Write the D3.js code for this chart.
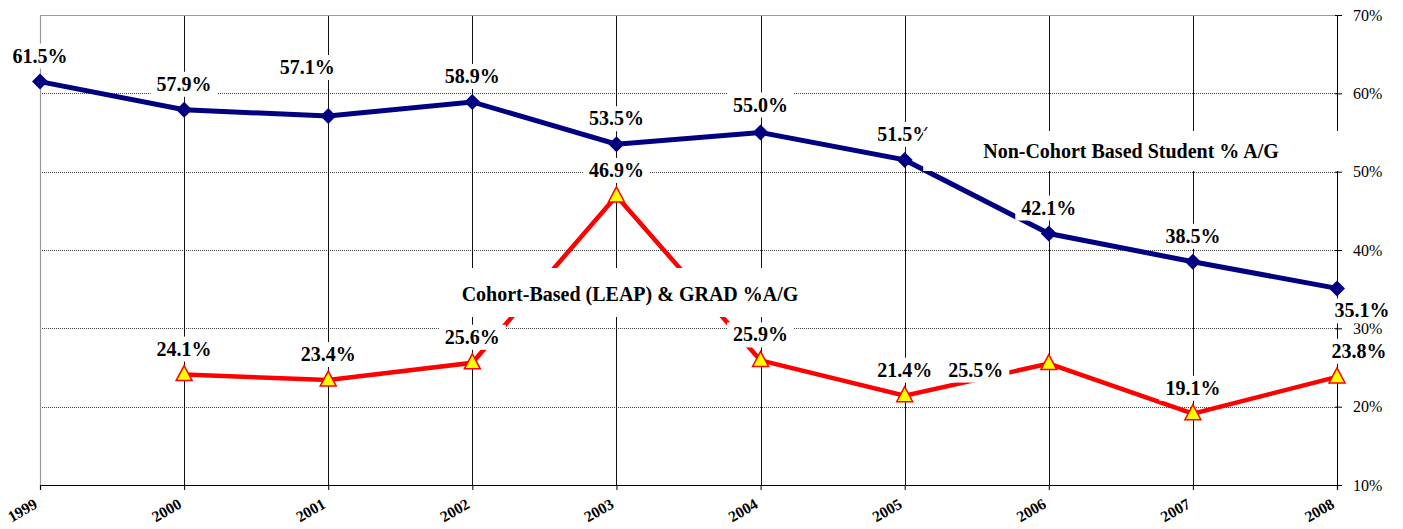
<!DOCTYPE html>
<html>
<head>
<meta charset="utf-8">
<script src="https://cdn.jsdelivr.net/npm/d3@7"></script>
<style>
  html, body { margin: 0; padding: 0; background: #fff; }
  svg { display: block; }
  svg text { font-family: "Liberation Serif", "Times New Roman", serif !important; }
</style>
</head>
<body>
<div id="chart"></div>
<script>
// chart values
const years = ['1999', '2000', '2001', '2002', '2003', '2004', '2005', '2006', '2007', '2008'];
const nonCohort = [61.5, 57.9, 57.1, 58.9, 53.5, 55.0, 51.5, 42.1, 38.5, 35.1];
const cohort = [null, 24.1, 23.4, 25.6, 46.9, 25.9, 21.4, 25.5, 19.1, 23.8];
const yTicks = [10, 20, 30, 40, 50, 60, 70];
const nonCohortName = 'Non-Cohort Based Student % A/G';
const cohortName = 'Cohort-Based (LEAP) & GRAD %A/G';

// label nudges (px) where the picture moves a label off its default spot
const nonCohortNudge = { '2001': [-21, -23], '2004': [0, -2], '2008': [25, 48] };
const cohortNudge = { '2006': [-73, 32], '2008': [22, 0] };

const width = 1403, height = 529;
const svg = d3.select('#chart').append('svg')
  .attr('width', width)
  .attr('height', height);

const x = d3.scalePoint().domain(years).range([40, 1337]);
const y = d3.scaleLinear().domain([10, 70]).range([485, 15]);

// horizontal dotted gridlines
svg.append('g').selectAll('line')
  .data(yTicks.filter(d => d > 10 && d < 70))
  .join('line')
  .attr('x1', 40).attr('x2', 1337)
  .attr('y1', d => Math.round(y(d)) + 0.5).attr('y2', d => Math.round(y(d)) + 0.5)
  .attr('stroke', '#444')
  .attr('stroke-width', 1)
  .attr('stroke-dasharray', '1,1');

// vertical gridlines
svg.append('g').selectAll('line')
  .data(years.slice(1, -1))
  .join('line')
  .attr('x1', d => Math.round(x(d)) + 0.5).attr('x2', d => Math.round(x(d)) + 0.5)
  .attr('y1', y(70)).attr('y2', y(10))
  .attr('stroke', '#111')
  .attr('stroke-width', 1);

// plot area border (top & left)
svg.append('path')
  .attr('d', `M${x('1999') + 0.5},${y(10)}V${y(70) + 0.5}H${x('2008')}`)
  .attr('fill', 'none')
  .attr('stroke', '#999')
  .attr('stroke-width', 1.2);

// right value axis
const yAxis = svg.append('g')
  .attr('transform', `translate(${x('2008')},0)`)
  .call(d3.axisRight(y).tickValues(yTicks).tickFormat(d => d + '%').tickSize(5).tickPadding(11));
yAxis.select('.domain').attr('stroke', '#000');
yAxis.selectAll('.tick line').attr('x1', -2).attr('stroke', '#000');
yAxis.selectAll('text')
  .attr('font-size', 16)
  .attr('fill', '#000');

// bottom category axis
const xAxis = svg.append('g')
  .attr('transform', `translate(0,${y(10)})`)
  .call(d3.axisBottom(x).tickSize(5));
xAxis.select('.domain').attr('stroke', '#000').attr('stroke-width', 1.2);
xAxis.selectAll('.tick line').attr('stroke', '#000');
xAxis.selectAll('text')
  .attr('font-size', 15.5)
  .attr('font-weight', 'bold')
  .attr('fill', '#000')
  .attr('text-anchor', 'end')
  .attr('y', 0)
  .attr('dy', 0)
  .attr('transform', 'translate(-2,22) rotate(-30)');

// series lines
const line = d3.line()
  .defined(d => d.v != null)
  .x(d => x(d.year))
  .y(d => y(d.v));

const blueData = years.map((year, i) => ({ year, v: nonCohort[i] }));
const redData = years.map((year, i) => ({ year, v: cohort[i] })).filter(d => d.v != null);

svg.append('path')
  .datum(redData)
  .attr('d', line)
  .attr('fill', 'none')
  .attr('stroke', '#ff0000')
  .attr('stroke-width', 4.5);

svg.append('path')
  .datum(blueData)
  .attr('d', line)
  .attr('fill', 'none')
  .attr('stroke', '#000080')
  .attr('stroke-width', 5);

// markers
svg.append('g').selectAll('path')
  .data(blueData)
  .join('path')
  .attr('transform', d => `translate(${x(d.year)},${y(d.v)})`)
  .attr('d', 'M0,-8L8,0L0,8L-8,0Z')
  .attr('fill', '#000080');

svg.append('g').selectAll('path')
  .data(redData)
  .join('path')
  .attr('transform', d => `translate(${x(d.year)},${y(d.v)})`)
  .attr('d', 'M0,-9L8,6L-8,6Z')
  .attr('fill', '#ffff00')
  .attr('stroke', '#ff0000')
  .attr('stroke-width', 1.5);

// labels with white boxes
const labels = svg.append('g');
function boxLabel(cx, baseline, txt, pad, size) {
  const g = labels.append('g');
  const rect = g.append('rect').attr('fill', '#fff');
  const t = g.append('text')
    .attr('x', cx).attr('y', baseline)
    .attr('text-anchor', 'middle')
    .attr('font-size', size)
    .attr('font-weight', 'bold')
    .attr('fill', '#000')
    .text(txt);
  const b = t.node().getBBox();
  rect.attr('x', b.x - pad[0]).attr('y', b.y - pad[1])
    .attr('width', b.width + pad[0] + pad[2])
    .attr('height', b.height + pad[1] + pad[3]);
}

blueData.forEach(d => {
  const n = nonCohortNudge[d.year] || [0, 0];
  boxLabel(x(d.year) + n[0], y(d.v) - 19 + n[1], d.v.toFixed(1) + '%', [6, 1, 6, 2], 20);
});
redData.forEach(d => {
  const n = cohortNudge[d.year] || [0, 0];
  boxLabel(x(d.year) + n[0], y(d.v) - 19 + n[1], d.v.toFixed(1) + '%', [6, 1, 6, 2], 20);
});

// series name labels
boxLabel(1131, 158, nonCohortName, [60, 9, 62, 9], 20);
boxLabel(630, 301, cohortName, [40, 15, 40, 11], 20);
</script>
</body>
</html>
